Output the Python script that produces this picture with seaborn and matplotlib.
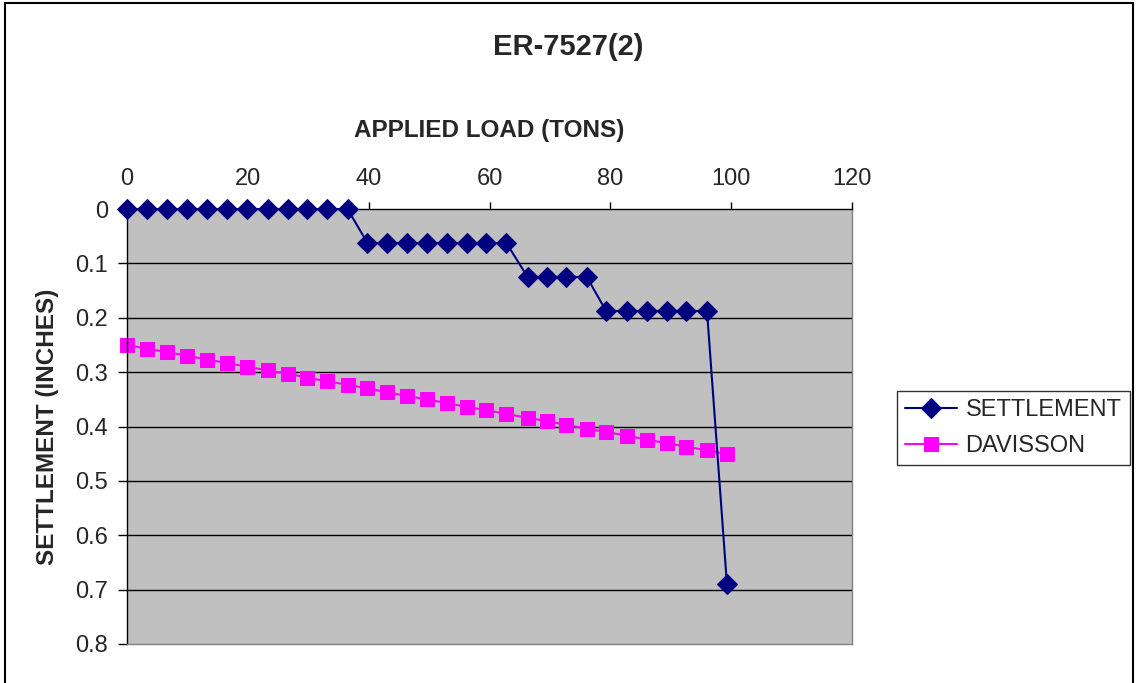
import pandas as pd
import matplotlib
matplotlib.use('Agg')
import matplotlib.pyplot as plt
import seaborn as sns
from matplotlib.patches import Rectangle

# データ
load_tons = [0, 3.3, 6.6, 10.0, 13.3, 16.5, 19.9, 23.3, 26.6, 29.8, 33.1, 36.5,
             39.8, 43.1, 46.3, 49.6, 53.0, 56.2, 59.5, 62.8, 66.3, 69.5, 72.7, 76.1,
             79.3, 82.8, 86.0, 89.4, 92.6, 96.0, 99.3]
settlement = [0, 0, 0, 0, 0, 0, 0, 0, 0, 0, 0, 0,
              0.0625, 0.0625, 0.0625, 0.0625, 0.0625, 0.0625, 0.0625, 0.0625,
              0.125, 0.125, 0.125, 0.125,
              0.1875, 0.1875, 0.1875, 0.1875, 0.1875, 0.1875,
              0.69]
davisson = [0.250, 0.257, 0.263, 0.270, 0.277, 0.283, 0.290, 0.297, 0.303, 0.310,
            0.317, 0.323, 0.330, 0.337, 0.344, 0.350, 0.357, 0.364, 0.370, 0.377,
            0.384, 0.390, 0.397, 0.404, 0.410, 0.417, 0.424, 0.431, 0.437, 0.444,
            0.451]
x_ticks = [0, 20, 40, 60, 80, 100, 120]
y_ticks = [0, 0.1, 0.2, 0.3, 0.4, 0.5, 0.6, 0.7, 0.8]

sns.set_style('white')
plt.rcParams['font.family'] = ['Liberation Sans', 'DejaVu Sans']

df = pd.DataFrame({'load': load_tons, 'SETTLEMENT': settlement, 'DAVISSON': davisson})

fig = plt.figure(figsize=(11.36, 6.83), dpi=100)
ax = fig.add_axes([127 / 1136, 39 / 683, 725 / 1136, 435 / 683])
ax.set_facecolor('#C0C0C0')

# 外枠
fig.patches.append(Rectangle((5 / 1136, -0.05), 1128 / 1136, 1.0 + 0.05 - 3 / 683,
                             transform=fig.transFigure, fill=False,
                             edgecolor='black', linewidth=1.5))

# 水平グリッド
for y in y_ticks[1:-1]:
    ax.axhline(y, color='black', linewidth=1, zorder=1)

sns.lineplot(data=df, x='load', y='SETTLEMENT', ax=ax, color='#000080',
             marker='D', markersize=10, markeredgecolor='#000080',
             linewidth=1.5, label='SETTLEMENT', zorder=3, clip_on=False)
sns.lineplot(data=df, x='load', y='DAVISSON', ax=ax, color='#FF00FF',
             marker='s', markersize=10, markeredgecolor='#FF00FF',
             linewidth=1.5, label='DAVISSON', zorder=2, clip_on=False)

ax.set_xlim(0, 120)
ax.set_ylim(0.8, 0)
ax.set_xticks(x_ticks)
ax.set_yticks(y_ticks)
ax.set_yticklabels(['0', '0.1', '0.2', '0.3', '0.4', '0.5', '0.6', '0.7', '0.8'])
ax.xaxis.tick_top()
ax.xaxis.set_label_position('top')
ax.tick_params(axis='x', direction='out', length=5, width=1, pad=9,
               labelsize=17, top=True, bottom=False, color='black')
ax.tick_params(axis='y', direction='out', length=6.5, width=1, pad=7,
               labelsize=17, left=True, color='black')

for side in ['left', 'top']:
    ax.spines[side].set_color('black')
    ax.spines[side].set_linewidth(1)
for side in ['right', 'bottom']:
    ax.spines[side].set_color('#808080')
    ax.spines[side].set_linewidth(1)

ax.set_xlabel('APPLIED LOAD (TONS)', fontsize=17.5, fontweight='bold', labelpad=22)
ax.set_ylabel('SETTLEMENT (INCHES)', fontsize=17.5, fontweight='bold', labelpad=12)
fig.text(568 / 1136, 1 - 47 / 683, 'ER-7527(2)', fontsize=21, fontweight='bold',
         ha='center', va='center')

leg = ax.legend(loc='center left', bbox_to_anchor=(897 / 1136, 1 - 428 / 683),
                bbox_transform=fig.transFigure, fontsize=17, frameon=True,
                fancybox=False, borderpad=0.35, handlelength=2.2,
                labelspacing=0.6, handletextpad=0.35, borderaxespad=0)
leg.get_frame().set_edgecolor('black')
leg.get_frame().set_linewidth(1)

fig.savefig('out.png', dpi=100)
